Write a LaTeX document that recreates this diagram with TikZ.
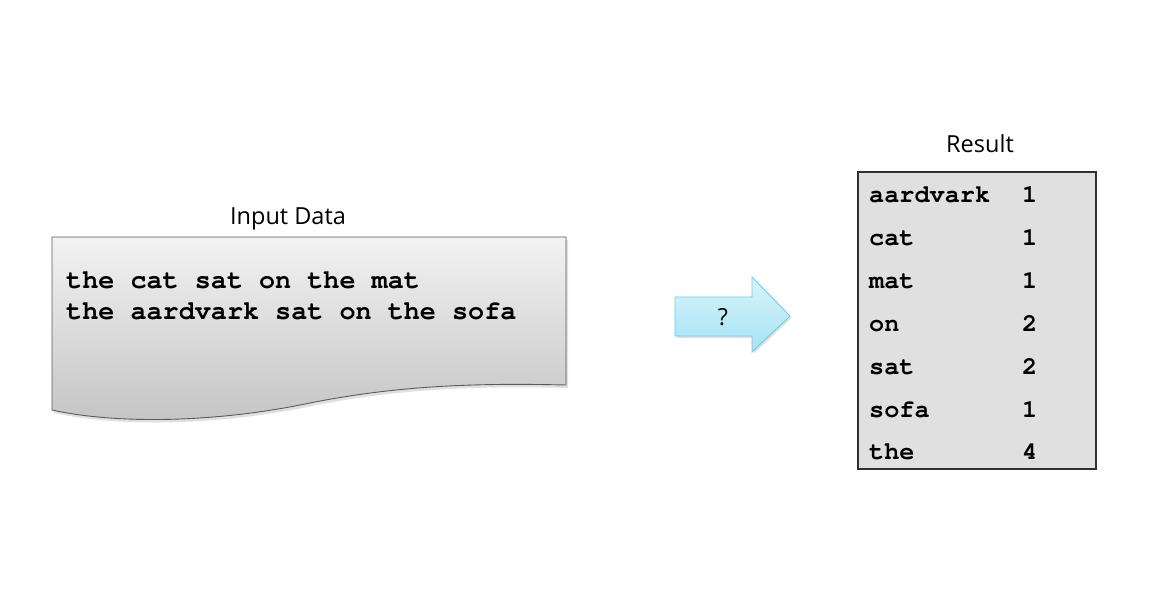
\documentclass[tikz,border=0pt]{standalone}
\usepackage{fontspec}
\setmainfont{Open Sans}
\newfontfamily\codefont{texgyrecursor}[Extension=.otf, UprightFont=*-regular, BoldFont=*-bold]
\definecolor{docTop}{HTML}{F2F2F2}
\definecolor{docBot}{HTML}{C4C4C4}
\definecolor{docLine}{HTML}{5A5A5A}
\definecolor{arrTop}{HTML}{D8F5FC}
\definecolor{arrBot}{HTML}{A6E2F3}
\definecolor{arrLine}{HTML}{6CCDE4}
\definecolor{tabFill}{HTML}{E0E0E0}
\definecolor{tabLine}{HTML}{303030}
\tikzset{
  labeltext/.style={font=\fontsize{23.5}{28}\selectfont, inner sep=0pt, text=black},
  inputtext/.style={font=\codefont\bfseries\fontsize{26.8}{30}\selectfont, inner sep=0pt, anchor=base west},
  celltext/.style={font=\codefont\bfseries\fontsize{25.2}{30}\selectfont, inner sep=0pt, anchor=base west},
  shadowfill/.style={fill=black, opacity=0.12},
}
\begin{document}
\begin{tikzpicture}[x=1pt,y=-1pt]
\useasboundingbox (0,0) rectangle (1156,601);
\fill[white] (0,0) rectangle (1156,601);

% input document shape
\def\docpath{(52,237) -- (566,237) -- (566,385) .. controls (480,383) and (400,385) .. (310,403) .. controls (220,422) and (120,425) .. (52,410) -- cycle}
\fill[shadowfill, shift={(2,3)}] \docpath;
\shade[top color=docTop, bottom color=docBot, draw=docLine, line width=0.9pt] \docpath;
\node[labeltext, anchor=base] (inlabel) at (288,225) {Input Data};
\node[inputtext] (line1) at (66,289) {the cat sat on the mat};
\node[inputtext] (line2) at (66,319.5) {the aardvark sat on the sofa};

% arrow
\def\arrpath{(675,297) -- (752,297) -- (752,277) -- (790,316) -- (752,352) -- (752,336) -- (675,336) -- cycle}
\fill[shadowfill, shift={(1.5,2)}] \arrpath;
\shade[top color=arrTop, bottom color=arrBot, draw=arrLine, line width=0.9pt] \arrpath;
\node[labeltext] (q) at (723,317) {?};

% result table
\node[labeltext, anchor=base] (reslabel) at (980,153) {Result};
\node[draw=tabLine, fill=tabFill, line width=1.4pt, minimum width=238pt, minimum height=297pt, inner sep=0pt] (table) at (977,320.5) {};
\foreach \w/\n [count=\i from 0] in {aardvark/1, cat/1, mat/1, on/2, sat/2, sofa/1, the/4} {
  \node[celltext] (w\i) at (869,202.5+42.9*\i) {\w};
  \node[celltext] (n\i) at (1022,202.5+42.9*\i) {\n};
}
\end{tikzpicture}
\end{document}
